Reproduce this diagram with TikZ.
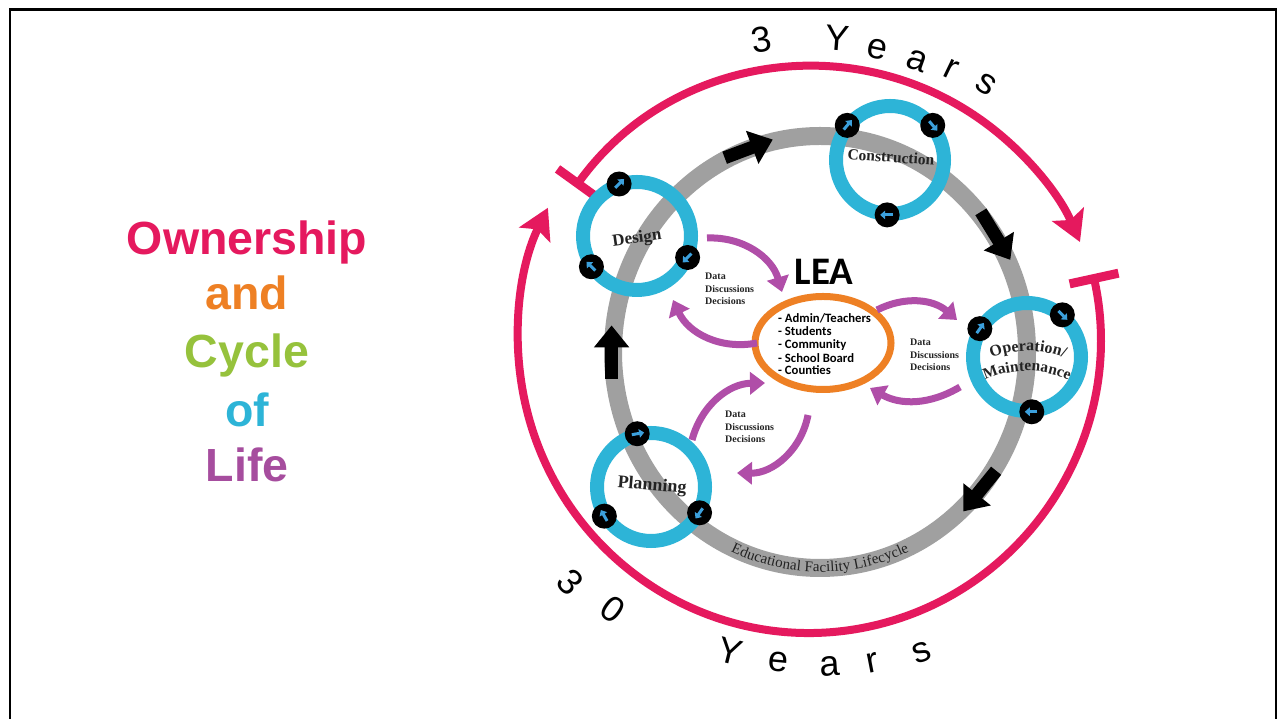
\documentclass[tikz,border=0pt]{standalone}
\usepackage{fontspec}
\setmainfont{Liberation Serif}
\newfontfamily\sansf{Liberation Sans}
\newfontfamily\carl{Carlito}
\usetikzlibrary{arrows.meta,shapes.geometric,decorations.text}
\definecolor{pinkc}{RGB}{229,25,94}
\definecolor{orangec}{RGB}{238,128,36}
\definecolor{greenc}{RGB}{150,194,60}
\definecolor{cyanc}{RGB}{45,180,215}
\definecolor{lifec}{RGB}{166,77,158}
\definecolor{purplec}{RGB}{176,78,168}
\definecolor{grayc}{RGB}{160,160,160}
\definecolor{bluec}{RGB}{60,160,220}
\definecolor{lblc}{RGB}{35,35,35}
\begin{document}
\begin{tikzpicture}[x=1pt,y=1pt,
  pinkarc/.style={draw=pinkc, line width=8pt},
  cyring/.style={circle, draw=cyanc, line width=14pt, minimum size=108pt, inner sep=0pt, outer sep=0pt},
  dotc/.style={circle, fill=black, minimum size=25pt, inner sep=0pt},
  bluearr/.style={draw=bluec, line width=3pt, -{Triangle[length=5pt,width=8.5pt]}},
  blkarr/.style={draw=black, line width=13pt, -{Triangle[length=22pt,width=34pt]}},
  purarr/.style={draw=purplec, line width=7pt, -{Triangle[length=15pt,width=22pt]}},
  ringlbl/.style={text=lblc, inner sep=0pt},
  ddd/.style={font=\fontsize{10}{12.5}\selectfont\bfseries, text=lblc, align=left, inner sep=0pt, anchor=north west},
  yrs/.style={font=\sansf\fontsize{36}{36}\selectfont, inner sep=0pt},
  titlew/.style={font=\sansf\bfseries\fontsize{46.5}{46.5}\selectfont, inner sep=0pt, anchor=base},
  lealine/.style={font=\carl\bfseries\fontsize{12.7}{13}\selectfont, inner sep=0pt, anchor=base west}
]
\useasboundingbox (0,0) rectangle (1277,719);
\fill[white] (0,0) rectangle (1277,719);
% frame
\draw[line width=2.6pt, line join=miter] (10,0) -- (10,709.5) -- (1276,709.5) -- (1276,0);

% pink arcs
\coordinate (PT) at (812,361);
\coordinate (PB) at (809,381);
\draw[pinkarc, {Bar[width=50pt,line width=9pt]}-{Stealth[length=30pt,width=34pt,inset=6pt]}]
  ([shift={(144.2:292)}]PT) arc[start angle=144.2, end angle=23.4, radius=292pt];
\draw[pinkarc, {Bar[width=50pt,line width=9pt]}-{Stealth[length=30pt,width=34pt,inset=6pt]}]
  ([shift={(12.5:291 and 295)}]PB) arc[start angle=12.5, end angle=-206.2, x radius=291pt, y radius=295pt];

% gray lifecycle ring
\coordinate (G) at (820,367);
\draw[grayc, line width=18pt] (G) ellipse [x radius=207pt, y radius=216pt];
\path[decorate, decoration={text along path, text align=center, raise=-4pt, text color=lblc,
  text={|\fontsize{15}{15}\selectfont|Educational Facility Lifecycle}}]
  ([shift={(240:207 and 216)}]G) arc[start angle=240, end angle=300, x radius=207pt, y radius=216pt];
\foreach \s/\e in {117/103, 40/25, -33/-47, 187/173}
  \draw[blkarr] ([shift={(\s:210 and 218)}]G) -- ([shift={(\e:210 and 218)}]G);

% cyan rings
\node[cyring] (D) at (637,483) {};
\node[cyring] (C) at (890,559) {};
\node[cyring] (O) at (1027,362) {};
\node[cyring] (P) at (651,232) {};
\foreach \ringn/\ang/\dir/\nm in {D/109/45/d1, D/-23/225/d2, D/214/135/d3,
  C/141/50/c1, C/39/-50/c2, C/267/180/c3,
  O/149/55/o1, O/50/-45/o2, O/-85/180/o3,
  P/104.5/10/q1, P/-28/235/q2, P/212/120/q3}{
  \node[dotc] (\nm) at ([shift={(\ang:55)}]\ringn.center) {};
  \draw[bluearr] ([shift={(\dir+180:5.5)}]\nm.center) -- ([shift={(\dir:7)}]\nm.center);
}

% ring labels
\node[ringlbl, rotate=8, font=\fontsize{17}{17}\selectfont\bfseries] (dl) at (637,480) {Design};
\node[ringlbl, rotate=-4, font=\fontsize{15.5}{15.5}\selectfont\bfseries] (cl) at (891,562) {Construction};
\node[ringlbl, rotate=-5, font=\fontsize{18}{18}\selectfont\bfseries] (pl) at (652,233) {Planning};
\coordinate (OA) at (1028,268);
\coordinate (OB) at (1027,248);
\path[decorate, decoration={text along path, text align=center, text color=lblc,
  text={|\fontsize{16}{16}\selectfont\bfseries|Operation/}}]
  ([shift={(130:100)}]OA) arc[start angle=130, end angle=50, radius=100pt];
\path[decorate, decoration={text along path, text align=center, text color=lblc,
  text={|\fontsize{15.5}{15.5}\selectfont\bfseries|Maintenance}}]
  ([shift={(130:100)}]OB) arc[start angle=130, end angle=50, radius=100pt];

% LEA
\node[ellipse, draw=orangec, line width=7pt, minimum width=136pt, minimum height=93pt, inner sep=0pt] (L) at (823,376) {};
\node[font=\carl\bfseries\fontsize{39}{39}\selectfont, anchor=base, inner sep=0pt] (leat) at (824,434) {LEA};
\node[lealine] (l1) at (778,396) {- Admin/Teachers};
\node[lealine] (l2) at (778,383) {- Students};
\node[lealine] (l3) at (778,370) {- Community};
\node[lealine] (l4) at (778,356) {- School Board};
\node[lealine] (l5) at (778,344) {- Counties};

% purple arrows
\coordinate (p1s) at (707,481); \coordinate (p1e) at (782,427);
\coordinate (p2s) at (757,376); \coordinate (p2e) at (673,419);
\coordinate (p3s) at (877,409); \coordinate (p3e) at (957,399);
\coordinate (p4s) at (960,332); \coordinate (p4e) at (870,331);
\coordinate (p5s) at (692,279); \coordinate (p5e) at (765,336);
\coordinate (p6s) at (808,304); \coordinate (p6e) at (737,246);
\draw[purarr] (p1s) to[bend left=38] (p1e);
\draw[purarr] (p2s) to[bend left=38] (p2e);
\draw[purarr] (p3s) to[bend left=34] (p3e);
\draw[purarr] (p4s) to[bend left=30] (p4e);
\draw[purarr] (p5s) to[bend left=37] (p5e);
\draw[purarr] (p6s) to[bend left=40] (p6e);
\node[ddd] (t1) at (705,446) {Data\\Discussions\\Decisions};
\node[ddd] (t2) at (910,380) {Data\\Discussions\\Decisions};
\node[ddd] (t3) at (725,308) {Data\\Discussions\\Decisions};

% title
\node[titlew, text=pinkc] (w1) at (247,464) {Ownership};
\node[titlew, text=orangec] (w2) at (247,409) {and};
\node[titlew, text=greenc] (w3) at (247,351) {Cycle};
\node[titlew, text=cyanc] (w4) at (247,292) {of};
\node[titlew, text=lifec] (w5) at (247,237) {Life};

% 3 Years (top)
\node[yrs, rotate=9] (ty1) at (761,679) {3};
\node[yrs, rotate=-4.5] (ty2) at (837,681) {Y};
\node[yrs, rotate=-12] (ty3) at (877,670) {e};
\node[yrs, rotate=-19.5] (ty4) at (917,658) {a};
\node[yrs, rotate=-25.7] (ty5) at (951,650) {r};
\node[yrs, rotate=-32.4] (ty6) at (986,635) {s};
% 30 Years (bottom)
\node[yrs, rotate=-46] (by1) at (570,137) {3};
\node[yrs, rotate=-36] (by2) at (613,110) {0};
\node[yrs, rotate=-14] (by3) at (730,68) {Y};
\node[yrs, rotate=-5.4] (by4) at (778,57) {e};
\node[yrs, rotate=3.6] (by5) at (830,53) {a};
\node[yrs, rotate=11] (by6) at (873,56) {r};
\node[yrs, rotate=19.6] (by7) at (922,66) {s};
\end{tikzpicture}
\end{document}
